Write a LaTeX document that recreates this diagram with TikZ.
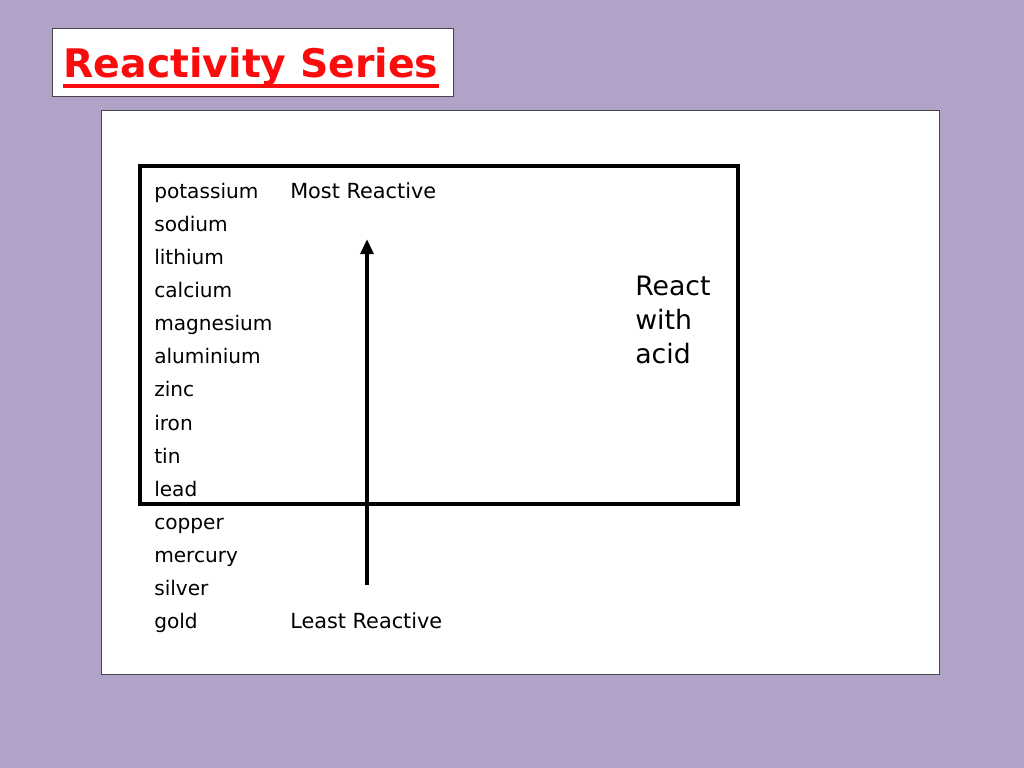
\documentclass[tikz,border=0pt]{standalone}
\usepackage{fontspec}
\setmainfont{DejaVu Sans}
\usetikzlibrary{positioning,arrows.meta}
\definecolor{lilac}{RGB}{177,162,200}
\definecolor{titlered}{RGB}{250,12,12}
\definecolor{framegray}{RGB}{70,70,70}

\begin{document}
\begin{tikzpicture}[x=0.025cm, y=-0.025cm, >={Triangle[length=0.38cm, width=0.32cm]},
    metal/.style={anchor=base west, inner sep=0pt, font=\fontsize{14.3}{16}\selectfont},
    scale_label/.style={anchor=base west, inner sep=0pt, font=\fontsize{14.8}{16}\selectfont}]
    % PARAMETERS
    \def\dy{33.15} % row spacing of the metals
    \def\yb{198}   % baseline of the first row

    % 1. BACKGROUND
    \fill[lilac] (0,0) rectangle (1024,768);

    % 2. TITLE
    \filldraw[fill=white, draw=framegray, thin] (52,28) rectangle (453,96);
    \node[titlered, anchor=base, inner sep=0pt, font=\bfseries\fontsize{28}{30}\selectfont] (title) at (251,78) {Reactivity Series};
    \draw[titlered, line width=2.2pt] ([yshift=-0.2cm]title.base west) -- ([yshift=-0.2cm]title.base east);

    % 3. PANEL
    \filldraw[fill=white, draw=framegray, thin] (101,110) rectangle (939,674);

    % 4. METALS (most reactive first)
    \node[metal] (potassium) at (154,\yb+0*\dy) {potassium};
    \node[metal] (sodium)    at (154,\yb+1*\dy) {sodium};
    \node[metal] (lithium)   at (154,\yb+2*\dy) {lithium};
    \node[metal] (calcium)   at (154,\yb+3*\dy) {calcium};
    \node[metal] (magnesium) at (154,\yb+4*\dy) {magnesium};
    \node[metal] (aluminium) at (154,\yb+5*\dy) {aluminium};
    \node[metal] (zinc)      at (154,\yb+6*\dy) {zinc};
    \node[metal] (iron)      at (154,\yb+7*\dy) {iron};
    \node[metal] (tin)       at (154,\yb+8*\dy) {tin};
    \node[metal] (lead)      at (154,\yb+9*\dy) {lead};
    \node[metal] (copper)    at (154,\yb+10*\dy) {copper};
    \node[metal] (mercury)   at (154,\yb+11*\dy) {mercury};
    \node[metal] (silver)    at (154,\yb+12*\dy) {silver};
    \node[metal] (gold)      at (154,\yb+13*\dy) {gold};

    % 5. SCALE
    \node[scale_label] (most_label)  at (290,\yb) {Most Reactive};
    \node[scale_label] (least_label) at (290,\yb+13*\dy) {Least Reactive};
    \coordinate (arrow_bottom) at (367,585);
    \coordinate (arrow_top) at (367,239);
    \draw[->, line width=2.8pt] (arrow_bottom) -- (arrow_top);

    % 6. ACID BOX
    \draw[line width=2.8pt] (140,166) rectangle (738,504);
    \node[anchor=north west, inner sep=0pt, align=left, font=\fontsize{19}{24}\selectfont] (acid_label) at (635,276) {React\\with\\acid};

\end{tikzpicture}
\end{document}
